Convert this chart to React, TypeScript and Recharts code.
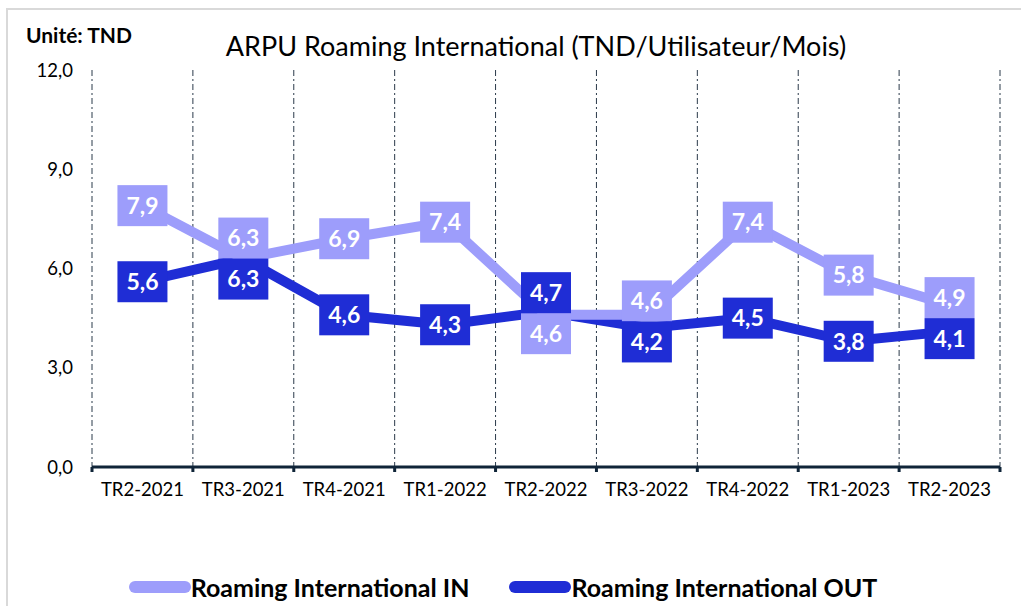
import React from 'react'
import { LineChart, Line, XAxis, YAxis, CartesianGrid, LabelList } from 'recharts'

const quarters = ['TR2-2021', 'TR3-2021', 'TR4-2021', 'TR1-2022', 'TR2-2022', 'TR3-2022', 'TR4-2022', 'TR1-2023', 'TR2-2023']
const roamingIn = [7.9, 6.3, 6.9, 7.4, 4.6, 4.6, 7.4, 5.8, 4.9]
const roamingOut = [5.6, 6.3, 4.6, 4.3, 4.7, 4.2, 4.5, 3.8, 4.1]
const yTicks = [0, 3, 6, 9, 12]

const IN_COLOR = '#9d9dfb'
const OUT_COLOR = '#1f2dd5'
const FONT = 'Lato, "Open Sans", sans-serif'

const W = 1021
const H = 606
const EDGE_AXIS_H = 6
const LABEL_AXIS_H = 40
const M = { top: 70, right: 21, left: 12, bottom: 139 - EDGE_AXIS_H - LABEL_AXIS_H }
const PLOT_H = H - 70 - 139
const PX_PER_UNIT = PLOT_H / 12
const BOX_W = 50
const BOX_H = 41

const data = quarters.map((q, i) => ({ i, q, in: roamingIn[i], out: roamingOut[i] }))
const edgeTicks = quarters.map((_, i) => i - 0.5).concat(quarters.length - 0.5)
const labelTicks = quarters.map((_, i) => i)
const fmt = (v: number) => v.toFixed(1).replace('.', ',')

// box label; when the two series sit close together, push the boxes apart
function makeLabel(own: number[], other: number[], color: string) {
  return function BoxLabel(props: any) {
    const { x, y, index } = props
    const v = own[index]
    const o = other[index]
    const otherY = y + (v - o) * PX_PER_UNIT
    let cy = y
    if (Math.abs(otherY - y) < BOX_H) {
      const mid = (y + otherY) / 2
      const isUpper = v > o || (v === o && own === roamingIn)
      cy = isUpper ? mid - BOX_H / 2 : mid + BOX_H / 2
    }
    return (
      <g>
        <rect x={x - BOX_W / 2} y={cy - BOX_H / 2} width={BOX_W} height={BOX_H} fill={color} />
        <text x={x} y={cy} dy="0.36em" textAnchor="middle" fill="#fff" fontSize={23} fontWeight="bold" fontFamily={FONT}>
          {fmt(v)}
        </text>
      </g>
    )
  }
}

// dotted separators on the category boundaries
const gridX = ({ offset }: any) =>
  edgeTicks.map((_, k) => offset.left + (offset.width * k) / quarters.length)

export default function App() {
  return (
    <div style={{ position: 'absolute', left: 0, top: 0, width: W, height: H, background: '#fff', overflow: 'hidden' }}>
      <div style={{ position: 'absolute', left: 6, top: 8, width: W, height: H, borderLeft: '2px solid #d9d9d9', borderTop: '2px solid #d9d9d9' }} />
      <div style={{ position: 'absolute', left: 26, top: 22, fontFamily: FONT, fontWeight: 'bold', fontSize: 21, color: '#000' }}>Unité: TND</div>
      <div style={{ position: 'absolute', left: 0, width: 1072, top: 29, textAlign: 'center', fontFamily: FONT, fontSize: 27, color: '#000' }}>
        ARPU Roaming International (TND/Utilisateur/Mois)
      </div>
      <div style={{ position: 'absolute', left: 0, top: 0 }}>
        <LineChart width={W} height={H} data={data} margin={M}>
          <CartesianGrid
            horizontal={false}
            stroke="#2b3a4a"
            strokeDasharray="6 3 2 3"
            verticalCoordinatesGenerator={gridX}
          />
          <XAxis
            xAxisId="edges"
            type="number"
            dataKey="i"
            domain={[-0.5, quarters.length - 0.5]}
            ticks={edgeTicks}
            interval={0}
            tick={() => <g />}
            tickSize={5}
            height={EDGE_AXIS_H}
            axisLine={{ stroke: '#0f2438', strokeWidth: 3 }}
            tickLine={{ stroke: '#0f2438', strokeWidth: 3 }}
          />
          <XAxis
            xAxisId="labels"
            type="number"
            dataKey="i"
            domain={[-0.5, quarters.length - 0.5]}
            ticks={labelTicks}
            tickFormatter={(v: number) => quarters[v]}
            axisLine={false}
            tickLine={false}
            tickSize={0}
            tickMargin={10}
            height={LABEL_AXIS_H}
            interval={0}
            tick={{ fill: '#000', fontSize: 18.5, fontFamily: FONT }}
          />
          <YAxis
            domain={[0, 12]}
            ticks={yTicks}
            tickFormatter={fmt}
            axisLine={false}
            tickLine={false}
            tickSize={0}
            tickMargin={19}
            width={80}
            tick={{ fill: '#000', fontSize: 18.5, fontFamily: FONT }}
          />
          <Line xAxisId="edges" dataKey="out" stroke={OUT_COLOR} strokeWidth={10} dot={false} isAnimationActive={false} />
          <Line xAxisId="edges" dataKey="in" stroke={IN_COLOR} strokeWidth={10} dot={false} isAnimationActive={false} />
          <Line xAxisId="edges" dataKey="in" stroke="none" dot={false} legendType="none" isAnimationActive={false}>
            <LabelList dataKey="in" content={makeLabel(roamingIn, roamingOut, IN_COLOR)} />
          </Line>
          <Line xAxisId="edges" dataKey="out" stroke="none" dot={false} legendType="none" isAnimationActive={false}>
            <LabelList dataKey="out" content={makeLabel(roamingOut, roamingIn, OUT_COLOR)} />
          </Line>
        </LineChart>
      </div>
      <div style={{ position: 'absolute', left: 0, width: 1006, top: 572, display: 'flex', justifyContent: 'center', gap: 40, fontFamily: FONT, fontWeight: 'bold', fontSize: 25, color: '#000' }}>
        {[
          { name: 'Roaming International IN', color: IN_COLOR },
          { name: 'Roaming International OUT', color: OUT_COLOR },
        ].map((s) => (
          <div key={s.name} style={{ display: 'flex', alignItems: 'center' }}>
            <span style={{ display: 'inline-block', width: 62, height: 12, borderRadius: 6, background: s.color }} />
            <span>{s.name}</span>
          </div>
        ))}
      </div>
    </div>
  )
}
